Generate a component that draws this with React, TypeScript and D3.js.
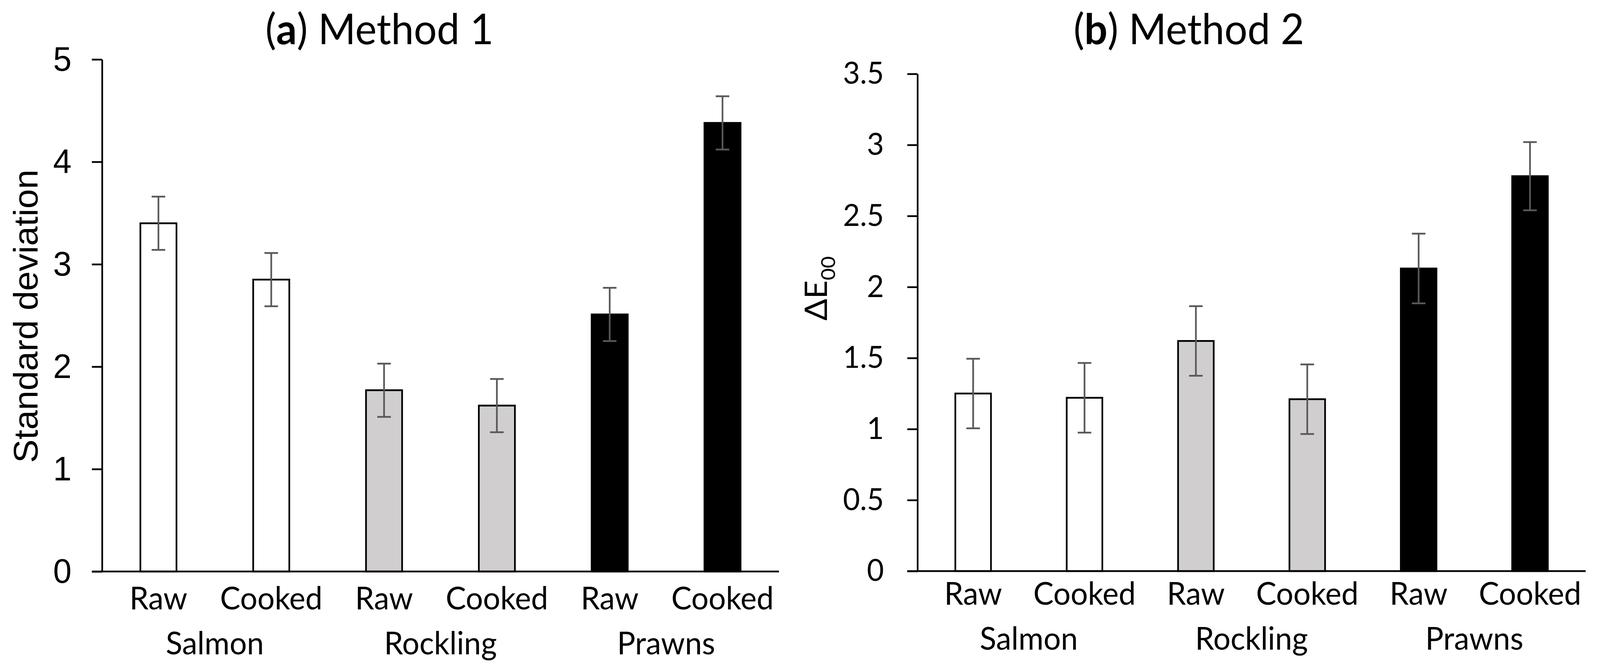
import React, { useEffect, useRef } from 'react';
import * as d3 from 'd3';

const groups = ['Salmon', 'Rockling', 'Prawns'];
const states = ['Raw', 'Cooked'];
const groupFills = ['#ffffff', '#d0cece', '#000000'];

const method1Values = [3.4, 2.85, 1.77, 1.62, 2.51, 4.38];
const method1Errors = [0.26, 0.26, 0.26, 0.26, 0.26, 0.26];
const method1Ticks = [0, 1, 2, 3, 4, 5];

const method2Values = [1.25, 1.22, 1.62, 1.21, 2.13, 2.78];
const method2Errors = [0.245, 0.245, 0.245, 0.245, 0.245, 0.24];
const method2Ticks = [0, 0.5, 1, 1.5, 2, 2.5, 3, 3.5];

const W = 4250;
const H = 1714;
const CALIBRI = 'Lato, Carlito, Calibri, sans-serif';
const ARIAL = '"Liberation Sans", Arial, sans-serif';

interface PanelSpec {
    letter: string;
    title: string;
    titleX: number;
    values: number[];
    errors: number[];
    ticks: number[];
    left: number;
    right: number;
    top: number;
    bottom: number;
    tickFont: string;
    tickSize: number;
    tickPad: number;
    catDy: number;
    groupDy: number;
}

const categories = groups.flatMap((g) => states.map((s) => `${g}|${s}`));

function drawPanel(svg: d3.Selection<SVGSVGElement, unknown, null, undefined>, p: PanelSpec) {
    const g = svg.append('g');
    const maxVal = p.ticks[p.ticks.length - 1];

    const x = d3.scaleBand<string>()
        .domain(categories)
        .range([p.left, p.right])
        .paddingInner(0.68)
        .paddingOuter(0.34);

    const y = d3.scaleLinear()
        .domain([0, maxVal])
        .range([p.bottom, p.top]);

    // bars
    g.selectAll('rect.bar')
        .data(p.values)
        .join('rect')
        .attr('class', 'bar')
        .attr('x', (_, i) => x(categories[i]) ?? 0)
        .attr('y', (d) => y(d))
        .attr('width', x.bandwidth())
        .attr('height', (d) => y(0) - y(d))
        .attr('fill', (_, i) => groupFills[Math.floor(i / 2)])
        .attr('stroke', '#000')
        .attr('stroke-width', 4.5);

    // error bars
    const eb = g.selectAll('g.err')
        .data(p.values)
        .join('g')
        .attr('class', 'err')
        .attr('stroke', '#595959')
        .attr('stroke-width', 4.5);
    eb.each(function (d, i) {
        const cx = (x(categories[i]) ?? 0) + x.bandwidth() / 2;
        const e = p.errors[i];
        const sel = d3.select(this);
        sel.append('line').attr('x1', cx).attr('x2', cx).attr('y1', y(d + e)).attr('y2', y(d - e));
        sel.append('line').attr('x1', cx - 18).attr('x2', cx + 18).attr('y1', y(d + e)).attr('y2', y(d + e));
        sel.append('line').attr('x1', cx - 18).attr('x2', cx + 18).attr('y1', y(d - e)).attr('y2', y(d - e));
    });

    // y axis
    const axis = g.append('g')
        .attr('transform', `translate(${p.left},0)`)
        .call(d3.axisLeft(y)
            .tickValues(p.ticks)
            .tickSize(27)
            .tickSizeOuter(0)
            .tickPadding(p.tickPad)
            .tickFormat((d) => String(d)));
    axis.select('.domain').attr('stroke', '#000').attr('stroke-width', 4.5);
    axis.selectAll('.tick line').attr('stroke', '#000').attr('stroke-width', 4.5);
    axis.selectAll('.tick text')
        .attr('fill', '#000')
        .style('font-family', p.tickFont)
        .style('font-size', `${p.tickSize}px`);

    // x axis line
    g.append('line')
        .attr('x1', p.left - 27)
        .attr('x2', p.right)
        .attr('y1', y(0))
        .attr('y2', y(0))
        .attr('stroke', '#000')
        .attr('stroke-width', 4.5);

    // category labels
    g.selectAll('text.cat')
        .data(categories)
        .join('text')
        .attr('class', 'cat')
        .attr('x', (c) => (x(c) ?? 0) + x.bandwidth() / 2)
        .attr('y', y(0) + p.catDy)
        .attr('text-anchor', 'middle')
        .style('font-family', CALIBRI)
        .style('font-size', '81px')
        .text((c) => c.split('|')[1]);

    g.selectAll('text.grp')
        .data(groups)
        .join('text')
        .attr('class', 'grp')
        .attr('x', (gr) => {
            const a = (x(`${gr}|Raw`) ?? 0);
            const b = (x(`${gr}|Cooked`) ?? 0) + x.bandwidth();
            return (a + b) / 2;
        })
        .attr('y', y(0) + p.groupDy)
        .attr('text-anchor', 'middle')
        .style('font-family', CALIBRI)
        .style('font-size', '81px')
        .text((gr) => gr);

    // title
    const t = g.append('text')
        .attr('x', p.titleX)
        .attr('y', 113)
        .attr('text-anchor', 'middle')
        .style('font-family', CALIBRI)
        .style('font-size', '108px');
    t.append('tspan').text('(');
    t.append('tspan').attr('font-weight', 'bold').text(p.letter);
    t.append('tspan').text(`) ${p.title}`);
}

export default function App() {
    const ref = useRef<SVGSVGElement>(null);

    useEffect(() => {
        document.body.style.margin = '0';
        document.body.style.overflow = 'hidden';
        if (!ref.current) return;
        const svg = d3.select(ref.current);
        svg.selectAll('*').remove();

        drawPanel(svg, {
            letter: 'a',
            title: 'Method 1',
            titleX: 1008,
            values: method1Values,
            errors: method1Errors,
            ticks: method1Ticks,
            left: 271,
            right: 2069,
            top: 152,
            bottom: 1462,
            tickFont: ARIAL,
            tickSize: 88,
            tickPad: 54,
            catDy: 97,
            groupDy: 212
        });

        drawPanel(svg, {
            letter: 'b',
            title: 'Method 2',
            titleX: 3158,
            values: method2Values,
            errors: method2Errors,
            ticks: method2Ticks,
            left: 2437,
            right: 4212,
            top: 189,
            bottom: 1461,
            tickFont: CALIBRI,
            tickSize: 78,
            tickPad: 62,
            catDy: 86,
            groupDy: 201
        });

        // y axis titles
        svg.append('text')
            .attr('transform', 'translate(100,809) rotate(-90)')
            .attr('text-anchor', 'middle')
            .style('font-family', ARIAL)
            .style('font-size', '90px')
            .text('Standard deviation');

        const de = svg.append('text')
            .attr('transform', 'translate(2197,820) rotate(-90)')
            .attr('text-anchor', 'start')
            .style('font-family', CALIBRI)
            .style('font-size', '82px');
        de.append('tspan').text('ΔE');
        de.append('tspan').attr('dy', 21).style('font-size', '53px').text('00');
    }, []);

    return (
        <svg
            ref={ref}
            viewBox={`0 0 ${W} ${H}`}
            preserveAspectRatio="none"
            style={{ position: 'fixed', left: 0, top: 0, width: '100%', height: '100%', background: '#fff' }}
        />
    );
}
